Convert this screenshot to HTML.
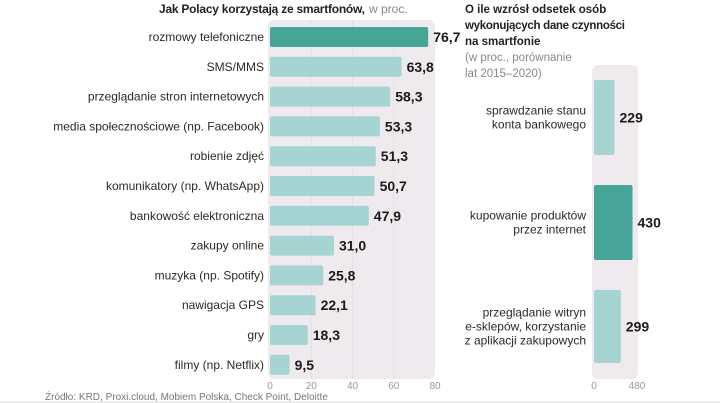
<!DOCTYPE html>
<html><head><meta charset="utf-8"><style>
body{margin:0;width:720px;height:403px;background:#fff;overflow:hidden;font-family:"Liberation Sans",sans-serif;}
svg{display:block}
.lab{font-size:12px;fill:#2a2a2a;font-stretch:condensed}
.val{font-size:14px;font-weight:bold;fill:#1a1a1a}
.tick{font-size:10px;fill:#999}
</style></head><body>
<svg id="c" width="720" height="403">
<text x="159" y="13" font-size="12" font-weight="bold" fill="#222" textLength="206">Jak Polacy korzystają ze smartfonów,</text>
<text x="369" y="13" font-size="12" fill="#888">w proc.</text>
<g font-size="11.5">
<text x="465" y="13" font-weight="bold" fill="#222">O ile wzrósł odsetek osób</text>
<text x="465" y="29" font-weight="bold" fill="#222" textLength="160">wykonujących dane czynności</text>
<text x="465" y="45" font-weight="bold" fill="#222">na smartfonie</text>
<text x="465" y="61" fill="#888">(w proc., porównanie</text>
<text x="465" y="77" fill="#888">lat 2015–2020)</text>
</g>
<rect x="268" y="20" width="167" height="359" rx="6" fill="#eeeaee"/>
<rect x="592" y="65" width="46" height="314" rx="6" fill="#eeeaee"/>
<g id="L"></g><g id="R"></g>
<text x="45" y="400" font-size="10" fill="#777">Źródło: KRD, Proxi.cloud, Mobiem Polska, Check Point, Deloitte</text>
<line x1="0" y1="402" x2="720" y2="402" stroke="#ddd"/>
</svg>
<script>
const cats=["rozmowy telefoniczne","SMS/MMS","przeglądanie stron internetowych","media społecznościowe (np. Facebook)","robienie zdjęć","komunikatory (np. WhatsApp)","bankowość elektroniczna","zakupy online","muzyka (np. Spotify)","nawigacja GPS","gry","filmy (np. Netflix)"];
const vals=[76.7,63.8,58.3,53.3,51.3,50.7,47.9,31.0,25.8,22.1,18.3,9.5];
const ticksL=[0,20,40,60,80];
const rcats=[["sprawdzanie stanu","konta bankowego"],["kupowanie produktów","przez internet"],["przeglądanie witryn","e-sklepów, korzystanie","z aplikacji zakupowych"]];
const rvals=[229,430,299];
const ticksR=[0,480];
const NS="http://www.w3.org/2000/svg";
function mk(p,t,a,txt){const e=document.createElementNS(NS,t);for(const k in a)e.setAttribute(k,a[k]);if(txt!=null)e.textContent=txt;p.appendChild(e);return e;}
const L=document.getElementById('L'),R=document.getElementById('R');
const xL=v=>270+v*(435-270)/80, yL=i=>37+i*29.8;
ticksL.forEach(t=>{
 if(t>0&&t<80){const g=mk(L,'line',{x1:xL(t),x2:xL(t),y1:20,y2:379,stroke:'#e4dfe4'});
 
 }
 const e=mk(L,'text',{x:xL(t),y:389,'text-anchor':'middle',class:'tick'},String(t));
 
 
});
cats.forEach((c,i)=>{
 const y=yL(i);
 const b=mk(L,'rect',{x:270,y:y-10,width:xL(vals[i])-270,height:20,rx:2,fill:i==0?'#46a596':'#a6d4d2'});
 
 
 const l=mk(L,'text',{x:264,y:y+4,'text-anchor':'end',class:'lab'},c);
 
 
 const v=mk(L,'text',{x:xL(vals[i])+5,y:y+5,class:'val'},vals[i].toFixed(1).replace('.',','));
 
 
});
const xR=v=>594+v*(637-594)/480, yR=[[80,155],[185,260],[290,363]];
ticksR.forEach(t=>{
 const e=mk(R,'text',{x:xR(t),y:389,'text-anchor':'middle',class:'tick'},String(t));
 
 
});
rcats.forEach((c,i)=>{
 const [y0,y1]=yR[i],cy=(y0+y1)/2;
 const b=mk(R,'rect',{x:594,y:y0,width:xR(rvals[i])-594,height:y1-y0,rx:2,fill:i==1?'#46a596':'#a6d4d2'});
 
 
 c.forEach((ln,j)=>{
  const l=mk(R,'text',{x:586,y:cy+4+(j-(c.length-1)/2)*14,'text-anchor':'end',class:'lab'},ln);
  
  
 });
 const v=mk(R,'text',{x:xR(rvals[i])+5,y:cy+5,class:'val'},String(rvals[i]));
 
 
});
</script>
</body></html>
